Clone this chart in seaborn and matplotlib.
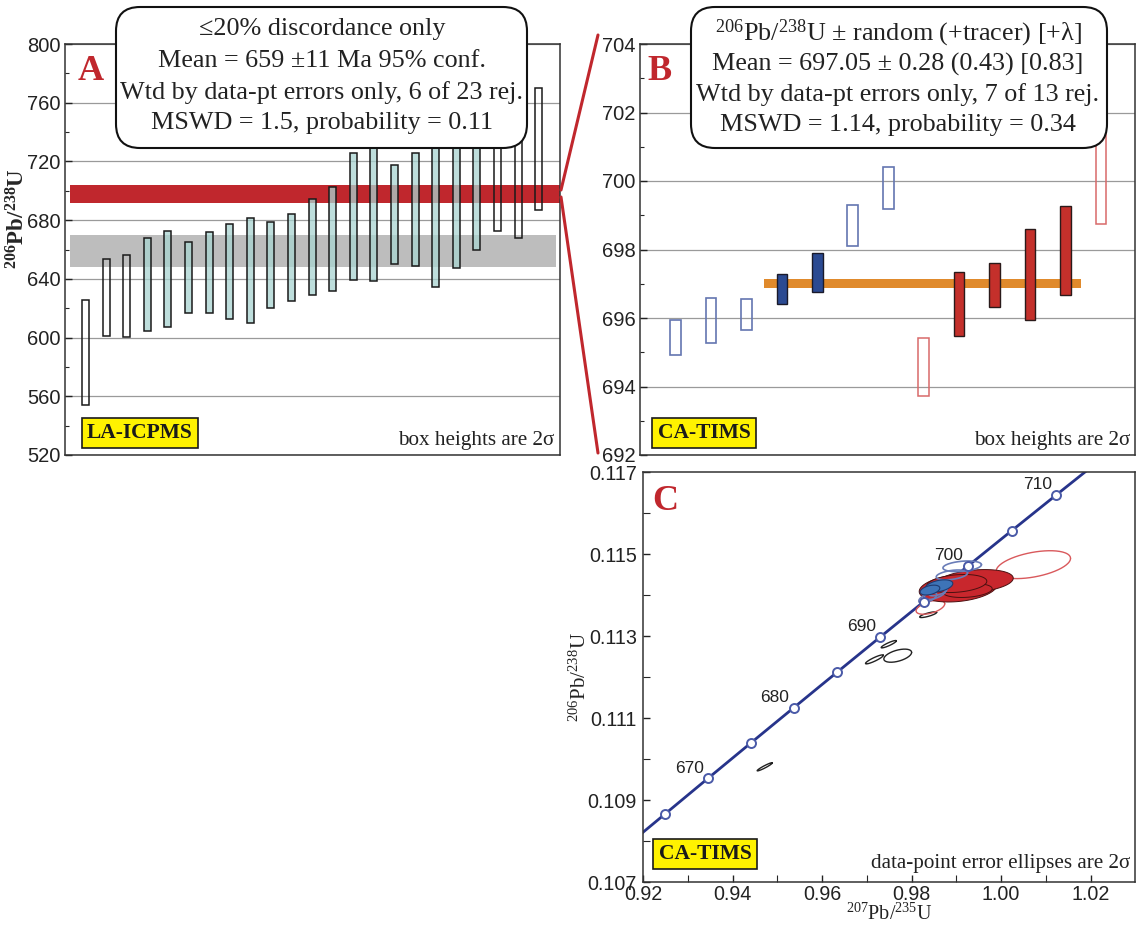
import numpy as np
import pandas as pd
import matplotlib
matplotlib.use("Agg")
import matplotlib.pyplot as plt
import seaborn as sns
from matplotlib.patches import FancyBboxPatch
from matplotlib.lines import Line2D
from matplotlib.ticker import MultipleLocator, FixedLocator, FormatStrFormatter

# ---------------- data ----------------
# Panel A : LA-ICPMS 206Pb/238U ages, 2-sigma box top / bottom (Ma)
a_top = [625.5, 653.4, 656.0, 667.7, 672.7, 665.0, 672.0, 677.3, 681.8, 678.4, 683.9, 694.3,
         702.7, 725.5, 736.0, 717.5, 725.5, 742.0, 738.0, 740.0, 736.0, 738.0, 770.0]
a_bot = [554.0, 601.0, 600.5, 604.3, 607.0, 616.6, 616.6, 612.7, 609.8, 620.2, 625.2, 629.3,
         632.0, 639.3, 638.6, 650.0, 649.0, 634.5, 647.3, 660.0, 672.3, 667.5, 687.0]
a_used = [0, 0, 0, 1, 1, 1, 1, 1, 1, 1, 1, 1, 1, 1, 1, 1, 1, 1, 1, 1, 0, 0, 0]
a_mean_band = (648.0, 670.0)
zoom_band = (692.0, 704.0)

# Panel B : CA-TIMS 206Pb/238U ages
b_top = [695.94, 696.59, 696.55, 697.29, 697.89, 699.29, 700.42, 695.43, 697.35, 697.62, 698.59, 699.27, 701.80]
b_bot = [694.93, 695.26, 695.64, 696.41, 696.77, 698.10, 699.18, 693.71, 695.46, 696.33, 695.93, 696.66, 698.75]
b_group = ["blue"] * 7 + ["red"] * 6
b_used = [0, 0, 0, 1, 1, 0, 0, 0, 1, 1, 1, 1, 0]
b_mean_band = (696.88, 697.14)
b_mean_span = (3.5, 12.45)

# Panel C : concordia ellipses (centre x, centre y, half-width x, half-height y, correlation, kind)
ell_cx = [0.9472, 0.9749, 0.9717, 0.9769, 0.9837, 1.0072, 0.9842,
          0.9904, 0.9942, 0.9925, 0.9901,
          0.9836, 0.9852, 0.9859, 0.9890, 0.9913,
          0.9861, 0.9841]
ell_cy = [0.10981, 0.11280, 0.11243, 0.11252, 0.11352, 0.11474, 0.11370,
          0.11417, 0.11434, 0.11411, 0.11428,
          0.11393, 0.11402, 0.11408, 0.11449, 0.11470,
          0.11422, 0.11412]
ell_hx = [0.0017, 0.0017, 0.0020, 0.0031, 0.0019, 0.0083, 0.0032,
          0.0087, 0.0085, 0.0055, 0.0067,
          0.0020, 0.0024, 0.0020, 0.0035, 0.0043,
          0.0031, 0.0022]
ell_hy = [0.00010, 0.00009, 0.00011, 0.00016, 0.00007, 0.00034, 0.00017,
          0.00034, 0.00028, 0.00017, 0.00022,
          0.00013, 0.00013, 0.00010, 0.00012, 0.00013,
          0.00015, 0.00012]
ell_rho = [0.95, 0.9, 0.9, 0.5, 0.8, 0.45, 0.5,
           0.25, 0.25, 0.25, 0.25,
           0.6, 0.6, 0.6, 0.4, 0.3,
           0.4, 0.4]
ell_kind = ["black"] * 5 + ["red_open"] * 2 + ["red_fill"] * 4 + ["blue_open"] * 5 + ["blue_fill"] * 2

conc_marker_ages = [665, 670, 675, 680, 685, 690, 695, 700, 705, 710]
conc_label_ages = [670, 680, 690, 700, 710]
c_yticks = [0.107, 0.109, 0.111, 0.113, 0.115, 0.117]
lam238, lam235 = 1.55125e-10, 9.8485e-10

# ---------------- style ----------------
sns.set_theme(style="white")
plt.rcParams["font.family"] = ["Liberation Sans", "DejaVu Sans"]
plt.rcParams["mathtext.fontset"] = "custom"
plt.rcParams["mathtext.rm"] = "Liberation Serif"
plt.rcParams["mathtext.it"] = "Liberation Serif:italic"
plt.rcParams["mathtext.bf"] = "Liberation Serif:bold"
plt.rcParams["mathtext.default"] = "rm"
SERIF = ["Liberation Serif", "DejaVu Serif"]
RED = "#C0272D"
TICKC = "#222222"

W, H = 1141, 927
fig = plt.figure(figsize=(W / 100, H / 100), dpi=100)
fig.patch.set_facecolor("white")

axA = fig.add_axes([65 / W, 1 - 455 / H, 495 / W, 411 / H])
axB = fig.add_axes([640 / W, 1 - 455 / H, 495 / W, 411 / H])
axC = fig.add_axes([643 / W, 1 - 882 / H, 492 / W, 410 / H])

for ax in (axA, axB, axC):
    for s in ax.spines.values():
        s.set_color("#333333")
        s.set_linewidth(1.1)
    ax.set_facecolor("white")

# ---------------- Panel A ----------------
xa = np.arange(1, len(a_top) + 1)
axA.set_xlim(0, 24.03)
axA.set_ylim(520, 800)
axA.yaxis.set_major_locator(MultipleLocator(40))
axA.yaxis.set_minor_locator(MultipleLocator(20))
axA.set_xticks([])
axA.grid(axis="y", which="major", color="#9a9a9a", lw=0.9, zorder=0)
axA.set_axisbelow(True)
axA.tick_params(axis="y", which="major", direction="in", length=5, width=1, labelsize=14.5,
                pad=3, colors=TICKC, left=True)
axA.tick_params(axis="y", which="minor", direction="in", length=3, width=0.8, left=True)

axA.axhspan(a_mean_band[0], a_mean_band[1], xmin=5 / 495, xmax=491 / 495, color="#BDBDBD", zorder=1, lw=0)
axA.axhspan(zoom_band[0], zoom_band[1], xmin=5 / 495, xmax=1.0, color=RED, zorder=1, lw=0)

a_top_arr = np.array(a_top)
a_bot_arr = np.array(a_bot)
a_used_arr = np.array(a_used, bool)
axA.bar(xa[a_used_arr], (a_top_arr - a_bot_arr)[a_used_arr], bottom=a_bot_arr[a_used_arr], width=0.34,
        color=(0.66, 0.83, 0.82, 0.75), edgecolor="#1a1a1a", linewidth=1.1, zorder=2)
axA.bar(xa[~a_used_arr], (a_top_arr - a_bot_arr)[~a_used_arr], bottom=a_bot_arr[~a_used_arr], width=0.34,
        color="none", edgecolor="#1a1a1a", linewidth=1.1, zorder=2)

axA.set_ylabel(r"$\mathbf{^{206}}$Pb/$\mathbf{^{238}}$U", family=SERIF, fontweight="bold", fontsize=16.5)
axA.yaxis.set_label_coords(-0.072, 0.575)

# ---------------- Panel B ----------------
xb = np.arange(1, len(b_top) + 1)
axB.set_xlim(0, 13.96)
axB.set_ylim(692, 704)
axB.yaxis.set_major_locator(MultipleLocator(2))
axB.yaxis.set_minor_locator(MultipleLocator(1))
axB.set_xticks([])
axB.grid(axis="y", which="major", color="#9a9a9a", lw=0.9, zorder=0)
axB.set_axisbelow(True)
axB.tick_params(axis="y", which="major", direction="in", length=5, width=1, labelsize=14.5,
                pad=3, colors=TICKC, left=True)
axB.tick_params(axis="y", which="minor", direction="in", length=3, width=0.8, left=True)

axB.fill_between(list(b_mean_span), b_mean_band[0], b_mean_band[1], color="#E08A2C", lw=0, zorder=1)

b_styles = {
    ("blue", 0): dict(color="none", edgecolor="#6476B0", linewidth=1.2),
    ("blue", 1): dict(color="#2B4A92", edgecolor="#1a1a2a", linewidth=1.0),
    ("red", 0): dict(color="none", edgecolor="#D86A6A", linewidth=1.1),
    ("red", 1): dict(color="#C4302B", edgecolor="#2a1a1a", linewidth=1.0),
}
bdf = pd.DataFrame({"x": xb, "top": b_top, "bot": b_bot, "grp": b_group, "used": b_used})
for (g, u), sub in bdf.groupby(["grp", "used"]):
    axB.bar(sub["x"], sub["top"] - sub["bot"], bottom=sub["bot"], width=0.3, zorder=2, **b_styles[(g, u)])

# ---------------- Panel C ----------------
axC.set_xlim(0.92, 1.0299)
axC.set_ylim(0.107, 0.117)
axC.xaxis.set_major_locator(MultipleLocator(0.02))
axC.xaxis.set_minor_locator(MultipleLocator(0.01))
axC.yaxis.set_major_locator(FixedLocator(c_yticks))
axC.yaxis.set_minor_locator(FixedLocator([v + 0.001 for v in c_yticks[:-1]]))
axC.xaxis.set_major_formatter(FormatStrFormatter("%.2f"))
axC.yaxis.set_major_formatter(FormatStrFormatter("%.3f"))
axC.tick_params(which="major", direction="in", length=5, width=1, labelsize=14.2, pad=4.5,
                colors=TICKC, left=True, bottom=True)
axC.tick_params(axis="x", which="major", pad=2.5)
axC.tick_params(which="minor", direction="in", length=5, width=0.8, left=True, bottom=True)

t = np.linspace(655e6, 720e6, 400)
conc = pd.DataFrame({"x": np.exp(lam235 * t) - 1, "y": np.exp(lam238 * t) - 1})
sns.lineplot(data=conc, x="x", y="y", ax=axC, color="#27348B", lw=2.0, sort=False, zorder=2)

def ellipse_pts(cx, cy, hx, hy, rho, n=160):
    th = np.linspace(0, 2 * np.pi, n)
    return cx + hx * np.cos(th), cy + hy * (rho * np.cos(th) + np.sqrt(1 - rho ** 2) * np.sin(th))

ell_style = {
    "black": dict(fill=False, ec="#222222", lw=1.0, z=3),
    "red_open": dict(fill=False, ec="#D9595C", lw=1.0, z=3),
    "red_fill": dict(fill=True, fc="#C8272D", ec="#4a1010", lw=0.7, z=4),
    "blue_open": dict(fill=False, ec="#6A7DB8", lw=1.2, z=5),
    "blue_fill": dict(fill=True, fc="#3E74B8", ec="#1E3A70", lw=0.8, z=6),
}
for cx, cy, hx, hy, r, k in zip(ell_cx, ell_cy, ell_hx, ell_hy, ell_rho, ell_kind):
    ex, ey = ellipse_pts(cx, cy, hx, hy, r)
    st = ell_style[k]
    if st["fill"]:
        axC.fill(ex, ey, facecolor=st["fc"], edgecolor=st["ec"], lw=st["lw"], zorder=st["z"])
    else:
        axC.plot(ex, ey, color=st["ec"], lw=st["lw"], zorder=st["z"])

ma = np.array(conc_marker_ages) * 1e6
marks = pd.DataFrame({"x": np.exp(lam235 * ma) - 1, "y": np.exp(lam238 * ma) - 1})
sns.scatterplot(data=marks, x="x", y="y", ax=axC, marker="o", s=42, facecolor="white",
                edgecolor="#4A5AA8", linewidth=1.4, zorder=7)
for a in conc_label_ages:
    axC.annotate(str(a), (np.exp(lam235 * a * 1e6) - 1, np.exp(lam238 * a * 1e6) - 1),
                 xytext=(-3, 2), textcoords="offset points", ha="right", va="bottom",
                 fontsize=12.5, color="#222222", zorder=8)

axC.set_xlabel(r"$^{207}$Pb/$^{235}$U", family=SERIF, fontsize=14.5, color="#222222")
axC.set_ylabel(r"$^{206}$Pb/$^{238}$U", family=SERIF, fontsize=15, color="#222222")
axC.xaxis.set_label_coords(0.5, -0.053)
axC.yaxis.set_label_coords(-0.107, 0.5)

# ---------------- decorations ----------------
def panel_letter(ax, txt, x, y):
    ax.text(x, y, txt, transform=ax.transAxes, family=SERIF, fontweight="bold",
            fontsize=26, color=RED, ha="center", va="center", zorder=10)

panel_letter(axA, "A", 26 / 495, 1 - 27 / 411)
panel_letter(axB, "B", 20 / 495, 1 - 28 / 411)
panel_letter(axC, "C", 22 / 492, 1 - 29 / 410)

def yellow_tag(ax, txt, x, y, h):
    ax.text(x, y / h, txt, transform=ax.transAxes, family=SERIF, fontweight="bold", fontsize=15.5,
            color="#1a1a1a", ha="center", va="center", zorder=10,
            bbox=dict(boxstyle="square,pad=0.25", fc="#FFF200", ec="#1a1a1a", lw=1.2))

yellow_tag(axA, "LA-ICPMS", 75 / 495, 22, 411)
yellow_tag(axB, "CA-TIMS", 64 / 495, 22, 411)
yellow_tag(axC, "CA-TIMS", 62 / 492, 28, 410)

axA.text(0.988, 0.035, "box heights are 2σ", transform=axA.transAxes, family=SERIF, fontsize=15.2,
         ha="right", va="center", color="#222222", zorder=10)
axB.text(0.99, 0.035, "box heights are 2σ", transform=axB.transAxes, family=SERIF, fontsize=15.2,
         ha="right", va="center", color="#222222", zorder=10)
axC.text(0.99, 0.045, "data-point error ellipses are 2σ", transform=axC.transAxes, family=SERIF,
         fontsize=15.2, ha="right", va="center", color="#222222", zorder=10)

# annotation boxes (figure pixel space via inches)
def info_box(x0, x1, y0, y1, lines, ys, xc):
    box = FancyBboxPatch((x0 / 100, (H - y1) / 100), (x1 - x0) / 100, (y1 - y0) / 100,
                         boxstyle="round,pad=0,rounding_size=0.24", transform=fig.dpi_scale_trans,
                         fc="white", ec="#111111", lw=1.5, zorder=20)
    fig.add_artist(box)
    for ln, yy in zip(lines, ys):
        fig.text(xc / W, 1 - yy / H, ln, family=SERIF, fontsize=18.8, ha="center", va="center",
                 color="#222222", zorder=21)

info_box(116, 527, 7, 148,
         ["≤20% discordance only", "Mean = 659 ±11 Ma 95% conf.",
          "Wtd by data-pt errors only, 6 of 23 rej.", "MSWD = 1.5, probability = 0.11"],
         [29, 61, 93, 123], 322)
info_box(691, 1107, 7, 148,
         [r"$^{206}$Pb/$^{238}$U ± random (+tracer) [+λ]", "Mean = 697.05 ± 0.28 (0.43) [0.83]",
          "Wtd by data-pt errors only, 7 of 13 rej.", "MSWD = 1.14, probability = 0.34"],
         [33, 64, 95, 125], 898)

# zoom connector lines between A and B
fig.add_artist(Line2D([598 / W, 561 / W], [1 - 35 / H, 1 - 190 / H], color=RED, lw=2.2, zorder=15))
fig.add_artist(Line2D([561 / W, 598 / W], [1 - 197 / H, 1 - 453 / H], color=RED, lw=2.2, zorder=15))

fig.savefig("out.png", dpi=100, facecolor="white")
